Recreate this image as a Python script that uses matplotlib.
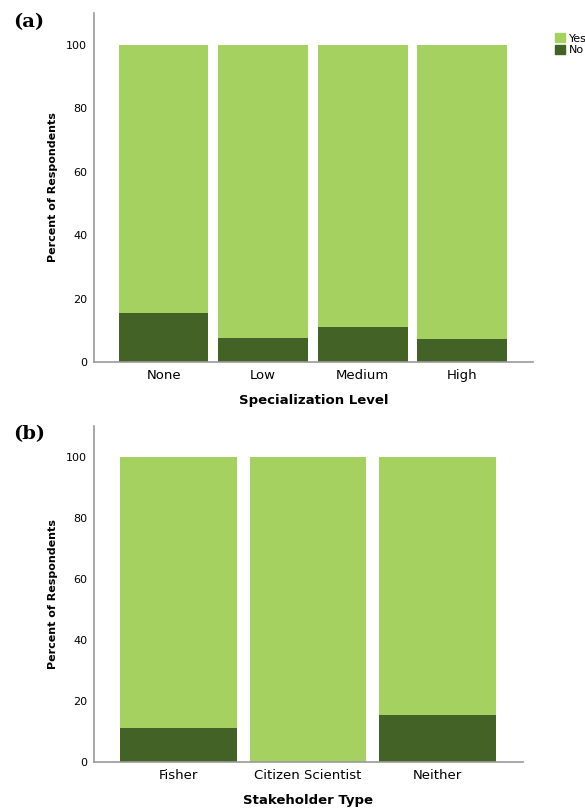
"""Stacked percent bars of Yes/No answers by specialization level and stakeholder type."""

import matplotlib.pyplot as plt
from matplotlib.patches import Patch


LEVELS = ["None", "Low", "Medium", "High"]
LEVEL_NO = [15.5, 7.7, 11.0, 7.3]

STAKEHOLDERS = ["Fisher", "Citizen Scientist", "Neither"]
STAKEHOLDER_NO = [11.2, 0.0, 15.4]

YES_COLOR = "#a5d160"
NO_COLOR = "#436326"
AXIS_COLOR = "#9a9a9a"


def draw_panel(ax, categories, no_values, xlabel, xlim):
    """Draw one stacked 100% bar panel."""
    positions = range(len(categories))
    yes_values = [100 - v for v in no_values]
    ax.bar(positions, no_values, width=0.9, color=NO_COLOR)
    ax.bar(positions, yes_values, bottom=no_values, width=0.9, color=YES_COLOR)

    ax.set_xlim(*xlim)
    ax.set_ylim(0, 110)
    ax.set_yticks([0, 20, 40, 60, 80, 100])
    ax.set_xticks(list(positions))
    ax.set_xticklabels(categories, fontsize=9.5)
    ax.tick_params(axis="y", length=0, pad=5, labelsize=8)
    ax.tick_params(axis="x", length=0, pad=5)
    for side in ["top", "right"]:
        ax.spines[side].set_visible(False)
    for side in ["left", "bottom"]:
        ax.spines[side].set_color(AXIS_COLOR)
        ax.spines[side].set_linewidth(1.2)
    ax.set_xlabel(xlabel, fontsize=9.5, fontweight="bold", labelpad=9)
    ax.set_ylabel("Percent of Respondents", fontsize=8, fontweight="bold", labelpad=6)


def main():
    fig = plt.figure(figsize=(5.85, 8.09), dpi=100)
    ax_a = fig.add_axes([0.1607, 0.5525, 0.7503, 0.4315])
    ax_b = fig.add_axes([0.1607, 0.0581, 0.7333, 0.4153])

    draw_panel(ax_a, LEVELS, LEVEL_NO, "Specialization Level", (-0.70, 3.71))
    draw_panel(ax_b, STAKEHOLDERS, STAKEHOLDER_NO, "Stakeholder Type", (-0.65, 2.66))

    fig.text(0.022, 0.967, "(a)", family="DejaVu Serif", fontsize=14, fontweight="bold")
    fig.text(0.022, 0.457, "(b)", family="DejaVu Serif", fontsize=14, fontweight="bold")

    handles = [Patch(color=YES_COLOR, label="Yes"), Patch(color=NO_COLOR, label="No")]
    fig.legend(handles=handles, loc="upper left", bbox_to_anchor=(0.949, 0.959),
               frameon=False, fontsize=8, handlelength=0.9, handleheight=0.9,
               handletextpad=0.3, labelspacing=0.1, borderpad=0, borderaxespad=0)

    fig.savefig("out.png", dpi=100)


if __name__ == "__main__":
    main()
